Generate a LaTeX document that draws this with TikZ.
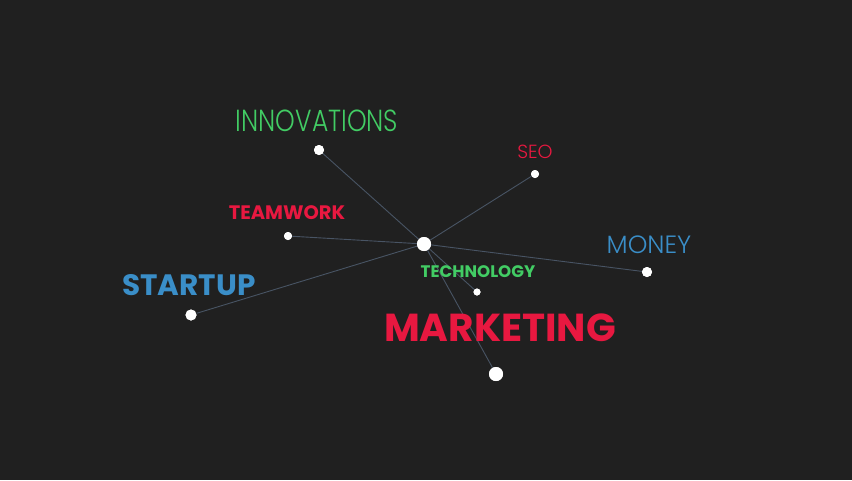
\documentclass[tikz,border=0pt]{standalone}
\usepackage{fontspec}
\setmainfont{Poppins}
\newfontfamily\thinfont{Poppins Light}
\definecolor{bg}{RGB}{32,32,32}
\definecolor{lgreen}{RGB}{66,204,100}
\definecolor{lred}{RGB}{232,24,64}
\definecolor{lblue}{RGB}{58,142,200}
\definecolor{edge}{RGB}{72,84,100}
\begin{document}
\begin{tikzpicture}[x=1pt,y=-1pt,
  dot/.style={circle,fill=white,inner sep=0pt,minimum size=#1},
  link/.style={draw=edge,line width=0.9pt},
  lbl/.style={inner sep=0pt,anchor=center}]
\fill[bg] (0,0) rectangle (852,480);
\useasboundingbox (0,0) rectangle (852,480);
\node[dot=14pt] (hub) at (424,244) {};
\node[dot=10pt] (inn) at (319,150) {};
\node[dot=8pt] (seo) at (535,174) {};
\node[dot=8pt] (team) at (288,236) {};
\node[dot=10pt] (money) at (647,272) {};
\node[dot=7pt] (tech) at (477,292) {};
\node[dot=11pt] (start) at (191,315) {};
\node[dot=14pt] (mark) at (496,374) {};
\foreach \t in {inn,seo,team,money,tech,start,mark}
  \draw[link] (hub) -- (\t);
\node[lbl,text=lgreen,font=\thinfont\fontsize{25}{25}\selectfont,yscale=1.22] (tinn) at (317,121) {INNOVATIONS};
\node[lbl,text=lred,font=\thinfont\fontsize{19}{19}\selectfont] (tseo) at (535,152) {SEO};
\node[lbl,text=lred,font=\bfseries\fontsize{19.5}{19.5}\selectfont] (tteam) at (287,213) {TEAMWORK};
\node[lbl,text=lblue,font=\bfseries\fontsize{29.5}{29.5}\selectfont] (tstart) at (189,285) {STARTUP};
\node[lbl,text=lblue,font=\thinfont\fontsize{25}{25}\selectfont] (tmoney) at (649,245) {MONEY};
\node[lbl,text=lgreen,font=\bfseries\fontsize{16.7}{16.7}\selectfont] (ttech) at (478,272) {TECHNOLOGY};
\node[lbl,text=lred,font=\bfseries\fontsize{39}{39}\selectfont] (tmark) at (500,328) {MARKETING};
\foreach \n/\s in {hub/14pt,inn/10pt,seo/8pt,team/8pt,money/10pt,tech/7pt,start/11pt,mark/14pt}
  \fill[white] (\n) circle[radius=0.5*\s];
\end{tikzpicture}
\end{document}
